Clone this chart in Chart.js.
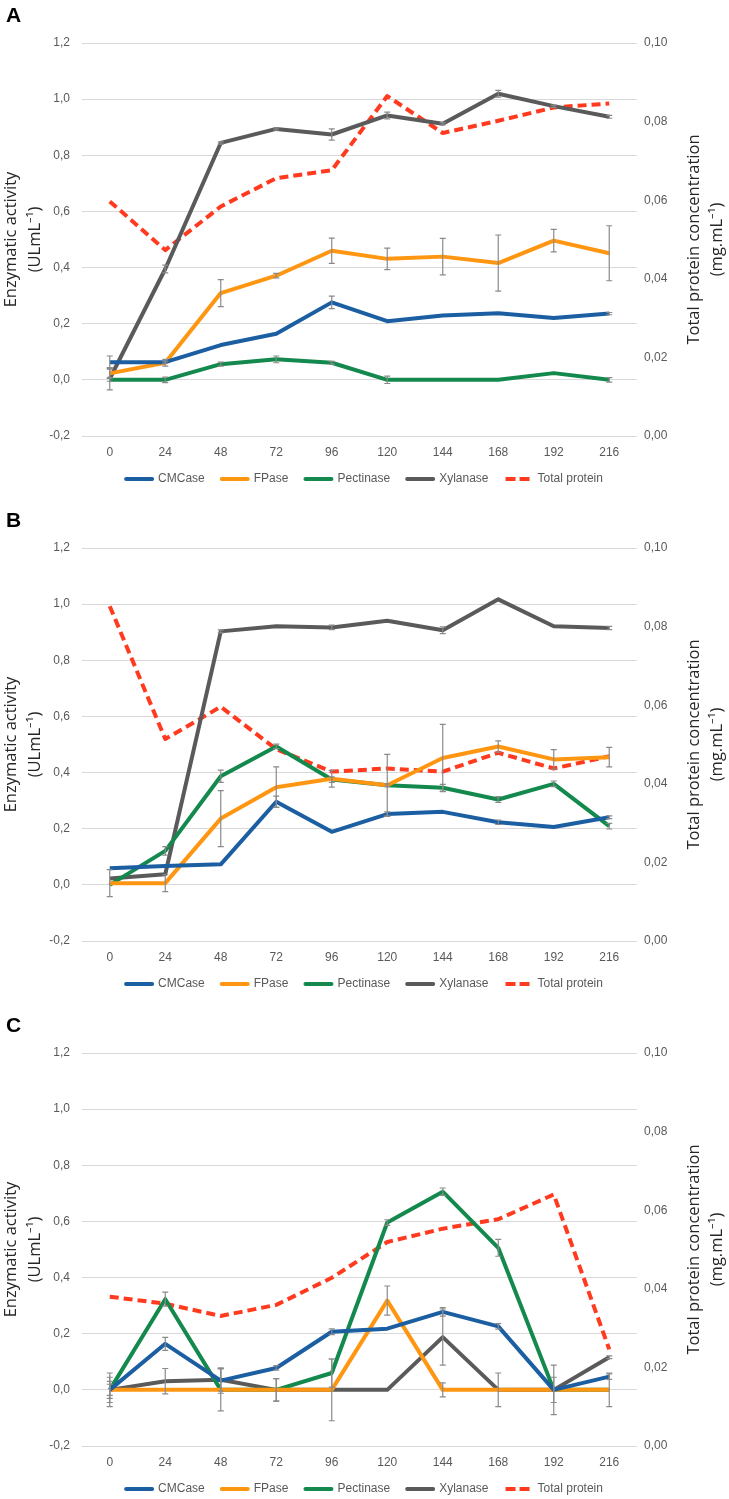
<!DOCTYPE html>
<html>
<head>
<meta charset="utf-8">
<title>Enzymatic activity and total protein</title>
<script src="https://cdn.jsdelivr.net/npm/chart.js@4.4.1/dist/chart.umd.min.js"></script>
<style>
  body { margin: 0; background: #fff; width: 729px; height: 1499px; overflow: hidden; position: relative; }
  .panel { position: absolute; left: 0; width: 729px; height: 495px; }
  .tag { position: absolute; left: 6px; top: 3px; z-index: 2; font: bold 21px "Liberation Sans", Arial, sans-serif; color: #000; }
</style>
</head>
<body>
<div class="panel" style="top:0px"><canvas id="chartA"></canvas><div class="tag">A</div></div>
<div class="panel" style="top:505px"><canvas id="chartB"></canvas><div class="tag">B</div></div>
<div class="panel" style="top:1010px"><canvas id="chartC"></canvas><div class="tag">C</div></div>
<script>
// sampling times (h)
const hours = ['0', '24', '48', '72', '96', '120', '144', '168', '192', '216'];

// panel A
const aCMCase = [0.063, 0.063, 0.124, 0.164, 0.276, 0.209, 0.229, 0.237, 0.220, 0.236];
const aCMCaseErr = [0.022, 0.004, 0, 0, 0.022, 0, 0, 0, 0, 0.004];
const aFPase = [0.023, 0.061, 0.309, 0.371, 0.460, 0.431, 0.439, 0.416, 0.496, 0.451];
const aFPaseErr = [0.015, 0.012, 0.048, 0.008, 0.045, 0.038, 0.065, 0.1, 0.04, 0.098];
const aPectinase = [0, 0, 0.056, 0.073, 0.061, 0, 0, 0, 0.024, 0];
const aPectinaseErr = [0.005, 0.01, 0.007, 0.012, 0.005, 0.013, 0, 0, 0, 0.008];
const aXylanase = [0.004, 0.395, 0.844, 0.894, 0.874, 0.942, 0.912, 1.019, 0.975, 0.937];
const aXylanaseErr = [0.04, 0.014, 0.004, 0.004, 0.02, 0.012, 0.004, 0.012, 0.004, 0.005];
const aProtein = [0.0597, 0.0473, 0.0584, 0.0656, 0.0676, 0.0865, 0.0771, 0.0802, 0.0836, 0.0846];

// panel B
const bCMCase = [0.059, 0.067, 0.073, 0.296, 0.189, 0.252, 0.260, 0.223, 0.206, 0.241];
const bCMCaseErr = [0, 0, 0, 0.02, 0, 0.008, 0, 0.008, 0, 0.005];
const bFPase = [0.006, 0.006, 0.236, 0.348, 0.378, 0.355, 0.452, 0.493, 0.447, 0.455];
const bFPaseErr = [0.048, 0.03, 0.1, 0.072, 0.03, 0.11, 0.12, 0.02, 0.035, 0.035];
const bPectinase = [0, 0.121, 0.387, 0.493, 0.375, 0.355, 0.346, 0.304, 0.360, 0.209];
const bPectinaseErr = [0, 0.015, 0.022, 0.008, 0.01, 0.005, 0.012, 0.01, 0.01, 0.01];
const bXylanase = [0.023, 0.038, 0.903, 0.921, 0.917, 0.941, 0.907, 1.017, 0.921, 0.915];
const bXylanaseErr = [0, 0, 0.005, 0, 0.008, 0, 0.012, 0, 0, 0.006];
const bProtein = [0.0852, 0.0514, 0.0596, 0.0488, 0.0431, 0.0439, 0.0431, 0.0479, 0.0439, 0.0470];

// panel C
const cCMCase = [0, 0.164, 0.033, 0.078, 0.207, 0.218, 0.278, 0.226, 0, 0.047];
const cCMCaseErr = [0.03, 0.023, 0.045, 0.008, 0.01, 0, 0.015, 0.01, 0.045, 0.01];
const cFPase = [0, 0, 0, 0, 0, 0.318, 0, 0, 0, 0];
const cFPaseErr = [0.02, 0, 0, 0, 0, 0.052, 0.025, 0, 0, 0];
const cPectinase = [0, 0.323, 0, 0, 0.060, 0.596, 0.706, 0.506, 0, 0];
const cPectinaseErr = [0.045, 0.025, 0.075, 0.04, 0.05, 0.01, 0.013, 0.03, 0, 0.06];
const cXylanase = [0, 0.031, 0.036, 0, 0, 0, 0.188, 0, 0, 0.116];
const cXylanaseErr = [0.06, 0.045, 0.04, 0.04, 0.11, 0, 0.1, 0.06, 0.088, 0.005];
const cProtein = [0.0380, 0.0362, 0.0331, 0.0359, 0.0428, 0.0519, 0.0553, 0.0577, 0.0640, 0.0246];

const leftTicks = { min: -0.2, max: 1.2, step: 0.2 };
const rightTicks = { min: 0, max: 0.1, step: 0.02 };

const colors = {
    cmcase: '#1b5ea2',
    fpase: '#ff9612',
    pectinase: '#13894d',
    xylanase: '#5a5a5a',
    protein: '#ff3a1e'
};

const tickFont = { family: '"Liberation Sans", Arial, sans-serif', size: 12 };
const tickColor = '#595959';

// comma decimals, and no "-0,0"
function commaLabel(v, digits) {
    if (Math.abs(v) < 1e-9) v = 0;
    return v.toFixed(digits).replace('.', ',');
}

// whiskers drawn from the y scale
const errorBars = {
    id: 'errorBars',
    afterDatasetsDraw(chart) {
        const ctx = chart.ctx;
        const y = chart.scales.y;
        ctx.save();
        ctx.strokeStyle = '#8a8a8a';
        ctx.lineWidth = 1.2;
        chart.data.datasets.forEach((ds, i) => {
            if (!ds.errors) return;
            const meta = chart.getDatasetMeta(i);
            meta.data.forEach((pt, j) => {
                const e = ds.errors[j];
                if (!e) return;
                const top = y.getPixelForValue(ds.data[j] + e);
                const bot = y.getPixelForValue(ds.data[j] - e);
                ctx.beginPath();
                ctx.moveTo(pt.x, top); ctx.lineTo(pt.x, bot);
                ctx.moveTo(pt.x - 3, top); ctx.lineTo(pt.x + 3, top);
                ctx.moveTo(pt.x - 3, bot); ctx.lineTo(pt.x + 3, bot);
                ctx.stroke();
            });
        });
        ctx.restore();
    }
};

// rotated two-line axis titles, both reading bottom to top
const sideTitles = {
    id: 'sideTitles',
    afterDraw(chart, args, opts) {
        const ctx = chart.ctx;
        const area = chart.chartArea;
        const cy = (area.top + area.bottom) / 2;
        ctx.save();
        ctx.fillStyle = '#262626';
        ctx.font = '16.5px "Open Sans", "Noto Sans", sans-serif';
        ctx.textAlign = 'center';
        ctx.textBaseline = 'middle';
        const put = (lines, xs) => {
            lines.forEach((t, k) => {
                ctx.save();
                ctx.translate(xs[k], cy);
                ctx.rotate(-Math.PI / 2);
                ctx.fillText(t, 0, 0);
                ctx.restore();
            });
        };
        put(opts.left, opts.leftX);
        put(opts.right, opts.rightX);
        ctx.restore();
    }
};

function series(label, data, errs, color, extra) {
    return Object.assign({
        label: label,
        data: data,
        errors: errs,
        borderColor: color,
        backgroundColor: color,
        borderWidth: 4,
        pointRadius: 0,
        tension: 0,
        borderJoinStyle: 'round',
        yAxisID: 'y'
    }, extra || {});
}

function makeChart(id, cmc, cmcErr, fp, fpErr, pec, pecErr, xyl, xylErr, prot) {
    const ctx = document.getElementById(id).getContext('2d');
    return new Chart(ctx, {
        type: 'line',
        data: {
            labels: hours,
            datasets: [
                series('CMCase', cmc, cmcErr, colors.cmcase),
                series('FPase', fp, fpErr, colors.fpase),
                series('Pectinase', pec, pecErr, colors.pectinase),
                series('Xylanase', xyl, xylErr, colors.xylanase),
                series('Total protein', prot, null, colors.protein, { borderDash: [9, 5], yAxisID: 'y1' })
            ]
        },
        options: {
            responsive: true,
            maintainAspectRatio: false,
            animation: false,
            layout: { padding: { top: 43, left: 0, right: 0, bottom: 0 } },
            scales: {
                x: {
                    offset: true,
                    grid: { display: false, drawTicks: false },
                    border: { display: false },
                    ticks: { font: tickFont, color: tickColor, padding: 9, maxRotation: 0 },
                    afterFit: s => { s.height = 20; }
                },
                y: {
                    position: 'left',
                    min: leftTicks.min,
                    max: leftTicks.max,
                    grid: { color: '#d9d9d9', lineWidth: 1, drawTicks: false },
                    border: { display: false },
                    ticks: {
                        stepSize: leftTicks.step,
                        font: tickFont,
                        color: tickColor,
                        padding: 12,
                        callback: v => commaLabel(v, 1)
                    },
                    afterFit: s => { s.width = 82; }
                },
                y1: {
                    position: 'right',
                    min: rightTicks.min,
                    max: rightTicks.max,
                    grid: { display: false, drawTicks: false },
                    border: { display: false },
                    ticks: {
                        stepSize: rightTicks.step,
                        font: tickFont,
                        color: tickColor,
                        padding: 7,
                        callback: v => commaLabel(v, 2)
                    },
                    afterFit: s => { s.width = 92; }
                }
            },
            plugins: {
                tooltip: { enabled: false },
                legend: {
                    position: 'bottom',
                    labels: {
                        boxWidth: 26,
                        boxHeight: 0,
                        padding: 17,
                        font: tickFont,
                        color: tickColor
                    }
                },
                sideTitles: {
                    left: ['Enzymatic activity', '(ULmL\u207B\u00B9)'],
                    leftX: [11, 35],
                    right: ['Total protein concentration', '(mg.mL\u207B\u00B9)'],
                    rightX: [694, 717]
                }
            }
        },
        plugins: [errorBars, sideTitles]
    });
}

makeChart('chartA', aCMCase, aCMCaseErr, aFPase, aFPaseErr, aPectinase, aPectinaseErr, aXylanase, aXylanaseErr, aProtein);
makeChart('chartB', bCMCase, bCMCaseErr, bFPase, bFPaseErr, bPectinase, bPectinaseErr, bXylanase, bXylanaseErr, bProtein);
makeChart('chartC', cCMCase, cCMCaseErr, cFPase, cFPaseErr, cPectinase, cPectinaseErr, cXylanase, cXylanaseErr, cProtein);
</script>
</body>
</html>
